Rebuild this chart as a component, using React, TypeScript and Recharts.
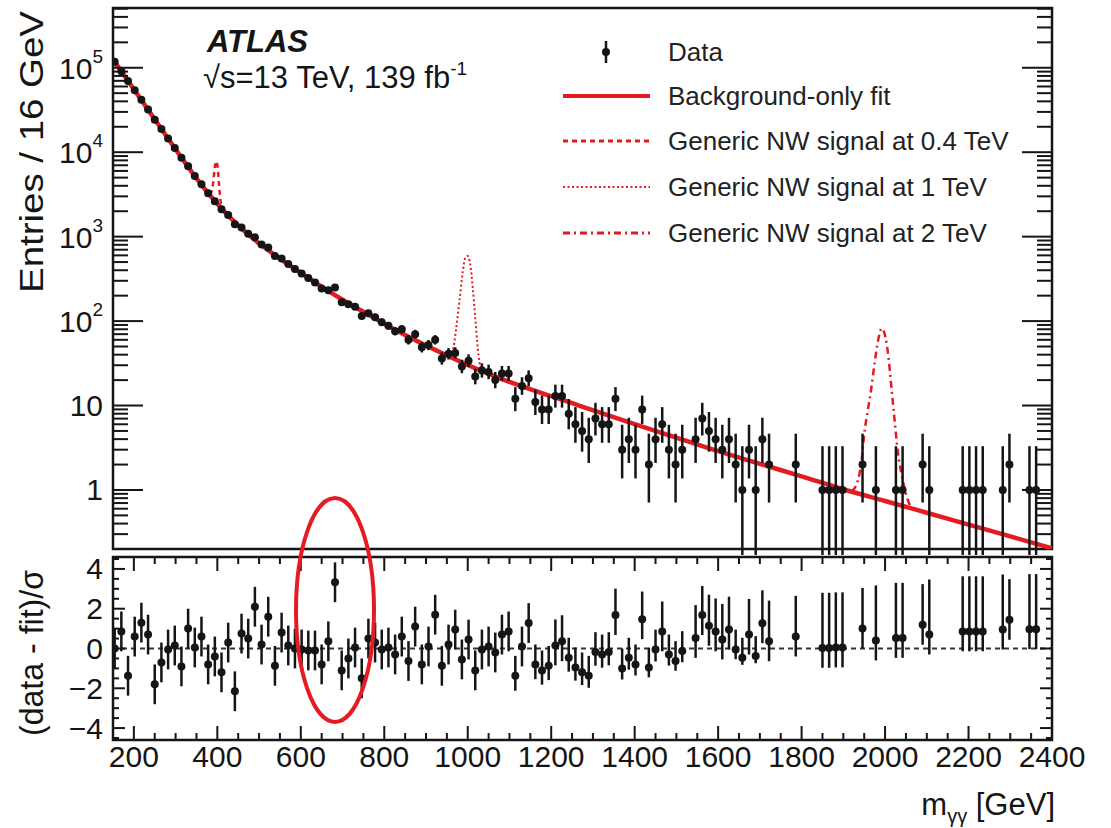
import React from 'react';
import {
  ComposedChart,
  Line,
  Scatter,
  XAxis,
  YAxis,
  ErrorBar,
  ReferenceLine,
  ReferenceArea,
} from 'recharts';

// diphoton mass bin centres (GeV), only bins with events
const binMass = [
  154, 170, 186, 202, 218, 234, 250, 266, 282, 298, 314, 330, 346, 362, 378, 394, 410, 426, 442, 458,
  474, 490, 506, 522, 538, 554, 570, 586, 602, 618, 634, 650, 666, 682, 698, 714, 730, 746, 762, 778,
  794, 810, 826, 842, 858, 874, 890, 906, 922, 938, 954, 970, 986, 1002, 1018, 1034, 1050, 1066, 1082, 1098,
  1114, 1130, 1146, 1162, 1178, 1194, 1210, 1226, 1242, 1258, 1274, 1290, 1306, 1322, 1338, 1354, 1370, 1386, 1402, 1418,
  1434, 1450, 1466, 1482, 1498, 1514, 1546, 1562, 1578, 1594, 1610, 1626, 1642, 1658, 1674, 1690, 1706, 1722, 1786, 1850,
  1866, 1882, 1898, 1946, 1978, 2026, 2042, 2090, 2106, 2186, 2202, 2218, 2234, 2282, 2298, 2346, 2362,
];

// entries / 16 GeV
const entries = [
  117800, 91040, 69460, 53970, 41670, 32050, 24270, 18820, 14550, 11240, 8590, 6805, 5216, 4180, 3258, 2620, 2117, 1808, 1400, 1283,
  1080, 982, 808, 742, 589, 551, 473, 415, 365, 323, 286, 243, 232, 250, 167, 158, 148, 115, 124, 111,
  97, 88, 76, 80, 60, 70, 49, 52, 60, 36, 41, 42, 29, 34, 22, 26, 25, 20, 24, 24,
  12, 17, 21, 11, 9, 9, 13, 13, 8, 6, 5, 4, 7, 6, 6, 12, 3, 4, 3, 9,
  2, 4, 6, 3, 2, 3, 4, 7, 5, 4, 3, 4, 2, 1, 3, 1, 4, 2, 2, 1,
  1, 1, 1, 2, 1, 1, 1, 2, 1, 1, 1, 1, 1, 1, 2, 1, 1,
];

// (data - fit)/sigma
const pulls = [
  0, 0.86, -1.37, 0.6, 1.3, 0.7, -1.8, -0.7, -0.05, 0.15, -0.9, 1.0, 0.05, 0.6, -0.8, -0.4, -1.2, 0.3, -2.15, 0.75,
  0.5, 2.1, 0.2, 1.6, -0.87, 0.8, 0.15, 0.0, -0.05, -0.1, -0.1, -0.8, 0.36, 3.33, -1.1, -0.5, 0.05, -1.5, 0.5, 0.3,
  -0.05, 0.05, -0.3, 0.6, -0.63, 1.1, -0.8, 0.1, 1.7, -0.87, 0.2, 0.95, -0.55, 0.45, -1.1, -0.05, 0.1, -0.2, 0.7, 0.86,
  -1.37, 0.1, 1.28, -0.8, -1.1, -0.87, 0.15, 0.36, -0.46, -0.95, -1.2, -1.37, -0.18, -0.3, -0.18, 1.68, -1.0, -0.46, -0.8, 1.47,
  -0.96, -0.05, 0.86, -0.3, -0.63, -0.13, 0.53, 1.68, 1.14, 0.86, 0.45, 0.95, -0.05, -0.46, 0.7, -0.38, 1.27, 0.36, 0.6, 0.03,
  0.03, 0.05, 0.05, 1.0, 0.4, 0.53, 0.53, 1.19, 0.7, 0.86, 0.86, 0.86, 0.86, 0.95, 1.44, 0.97, 0.97,
];

// background-only fit
const fitMass = [
  150, 164, 200, 250, 305, 350, 396, 440, 480, 550, 600, 674, 750, 834, 900, 1000,
  1073, 1100, 1200, 1272, 1400, 1500, 1600, 1700, 1800, 1900, 2000, 2100, 2200, 2300, 2400,
];
const fitEntries = [
  125900, 100000, 55590, 24550, 10000, 4898, 2570, 1514, 1000, 550, 372, 214, 129, 75.2, 51.3, 30.2,
  21.4, 19.1, 12.9, 9.8, 6.03, 4.17, 2.88, 2.04, 1.45, 1.02, 0.741, 0.537, 0.389, 0.282, 0.204,
];

// signal + background, near each peak
const sig04Mass = [380, 386, 390, 393, 397, 401, 404, 408, 414];
const sig04Entries = [3210, 3420, 4300, 6000, 7800, 6500, 4200, 2600, 2050];
const sig1Mass = [950, 964, 972, 980, 988, 994, 1000, 1006, 1012, 1018, 1024, 1032, 1040];
const sig1Entries = [39.4, 45, 80, 170, 380, 560, 590, 470, 250, 110, 48, 27, 25];
const sig2Mass = [1920, 1935, 1943, 1951, 1959, 1967, 1975, 1983, 1992, 2001, 2008, 2014, 2022, 2030, 2040, 2050, 2062];
const sig2Entries = [0.96, 1.3, 2.1, 5, 9, 16, 32, 58, 82, 64, 38, 19, 7.4, 3, 1.5, 0.9, 0.62];

// 68% Poisson intervals for small counts
const poissonLow = [0, 0.83, 1.29, 1.63, 1.91, 2.16, 2.38, 2.58, 2.77, 2.95, 3.11, 3.27, 3.42, 3.56];
const poissonHigh = [0, 2.3, 2.64, 2.92, 3.16, 3.38, 3.58, 3.77, 3.94, 4.11, 4.26, 4.4, 4.54, 4.67];

const massLabels = [200, 400, 600, 800, 1000, 1200, 1400, 1600, 1800, 2000, 2200, 2400];
const entryDecades = [1, 10, 100, 1000, 10000, 100000];
const pullLabels = [-4, -2, 0, 2, 4];

const RED = '#e41c22';
const INK = '#151515';
const FONT = '"Liberation Sans", Arial, Helvetica, sans-serif';

const W = 1111;
const PLOT_RIGHT = 1052;
const LEFT_W = 113;
// top panel plot area (local = page coords)
const TOP_Y0 = 8;
const TOP_H = 560;
// bottom panel: svg placed at page y 548
const BOT_TOP = 548;
const BOT_Y0 = 9;
const BOT_H = 280;

const massTicks: number[] = [];
for (let m = 150; m <= 2400; m += 50) massTicks.push(m);
const logTicks: number[] = [];
[0.1, 1, 10, 100, 1000, 10000, 100000].forEach((d) => {
  for (let k = 1; k <= 9; k++) {
    const v = +(d * k).toPrecision(3);
    if (v > 0.2 && v < 5.1e5) logTicks.push(v);
  }
});
const pullTicks: number[] = [];
for (let p = -4.5; p <= 4.5; p += 0.5) pullTicks.push(p);

const dataPoints = binMass.map((m, i) => {
  const n = entries[i];
  const err = n <= 13 ? [poissonLow[n], poissonHigh[n]] : [Math.sqrt(n) - 0.5, Math.sqrt(n) + 0.5];
  return { x: m, y: n, err };
});
const pullPoints = binMass.map((m, i) => {
  const n = entries[i];
  const r = n <= 13 ? poissonHigh[n] / poissonLow[n] : 1;
  const p = pulls[i];
  return { x: m, y: p, err: p >= 0 ? [1, r] : [1 / r, 1] };
});
const toXY = (xs: number[], ys: number[]) => xs.map((x, i) => ({ x, y: ys[i] }));
const fitLine = toXY(fitMass, fitEntries);
const sig04 = toXY(sig04Mass, sig04Entries);
const sig1 = toXY(sig1Mass, sig1Entries);
const sig2 = toXY(sig2Mass, sig2Entries);

const makeXTick = (plotTop: number, withLabels: boolean) => (props: any) => {
  const { x, y, payload } = props;
  const v = payload.value as number;
  const major = massLabels.includes(v);
  const len = major ? 14 : 7;
  return (
    <g>
      <line x1={x} y1={y} x2={x} y2={y - len} stroke={INK} strokeWidth={2} />
      <line x1={x} y1={plotTop} x2={x} y2={plotTop + len} stroke={INK} strokeWidth={2} />
      {withLabels && major && (
        <text x={x} y={y + 27} textAnchor="middle" fontSize={30} fill={INK} fontFamily={FONT}>
          {v}
        </text>
      )}
    </g>
  );
};

const LogTick = (props: any) => {
  const { x, y, payload } = props;
  const v = payload.value as number;
  const major = entryDecades.some((d) => Math.abs(d - v) < 1e-9 * d);
  const len = major ? 30 : 15;
  const exp = Math.round(Math.log10(v));
  return (
    <g>
      <line x1={x} y1={y} x2={x + len} y2={y} stroke={INK} strokeWidth={2} />
      <line x1={PLOT_RIGHT} y1={y} x2={PLOT_RIGHT - len} y2={y} stroke={INK} strokeWidth={2} />
      {major && (
        <text x={x - 10} y={y} textAnchor="end" dominantBaseline="central" fontSize={30} fill={INK} fontFamily={FONT}>
          {exp <= 1 ? (
            String(v)
          ) : (
            <>
              <tspan>10</tspan>
              <tspan dy={-12} fontSize={19}>
                {exp}
              </tspan>
            </>
          )}
        </text>
      )}
    </g>
  );
};

const PullTick = (props: any) => {
  const { x, y, payload } = props;
  const v = payload.value as number;
  const major = pullLabels.includes(v);
  const len = major ? 12 : 6;
  return (
    <g>
      <line x1={x} y1={y} x2={x + len} y2={y} stroke={INK} strokeWidth={2} />
      <line x1={PLOT_RIGHT} y1={y} x2={PLOT_RIGHT - len} y2={y} stroke={INK} strokeWidth={2} />
      {major && (
        <text x={x - 10} y={y} textAnchor="end" dominantBaseline="central" fontSize={30} fill={INK} fontFamily={FONT}>
          {v < 0 ? `\u2212${-v}` : v}
        </text>
      )}
    </g>
  );
};

const Dot = (props: any) => <circle cx={props.cx} cy={props.cy} r={4} fill={INK} />;

const Overlay = () => (
  <svg
    width={W}
    height={828}
    style={{ position: 'absolute', left: 0, top: 0, pointerEvents: 'none' }}
    fontFamily={FONT}
  >
    <text x={207} y={52} fontSize={31} fontWeight="bold" fontStyle="italic" fill={INK}>
      ATLAS
    </text>
    <text x={203} y={88} fontSize={31} fill={INK}>
      √s=13 TeV, 139 fb
      <tspan dy={-13} fontSize={19}>
        -1
      </tspan>
    </text>

    {/* legend */}
    <line x1={606} y1={41} x2={606} y2={63} stroke={INK} strokeWidth={2.5} />
    <circle cx={606} cy={52} r={4} fill={INK} />
    <line x1={563} y1={96} x2={650} y2={96} stroke={RED} strokeWidth={4} />
    <line x1={563} y1={141} x2={650} y2={141} stroke={RED} strokeWidth={3} strokeDasharray="5 4" />
    <line x1={563} y1={187} x2={650} y2={187} stroke={RED} strokeWidth={2} strokeDasharray="2 2.5" />
    <line x1={563} y1={233} x2={650} y2={233} stroke={RED} strokeWidth={3} strokeDasharray="7 4 2 4" />
    {[
      ['Data', 52],
      ['Background-only fit', 96],
      ['Generic NW signal at 0.4 TeV', 141],
      ['Generic NW signal at 1 TeV', 187],
      ['Generic NW signal at 2 TeV', 233],
    ].map(([label, y]) => (
      <text key={label} x={668} y={y as number} dominantBaseline="central" fontSize={26} fill="#222">
        {label}
      </text>
    ))}

    {/* axis titles */}
    <text
      transform="translate(31,152) rotate(-90)"
      textAnchor="middle"
      dominantBaseline="central"
      fontSize={34}
      fill={INK}
      textLength={282}
      lengthAdjust="spacingAndGlyphs"
    >
      Entries / 16 GeV
    </text>
    <text
      transform="translate(31,653) rotate(-90)"
      textAnchor="middle"
      dominantBaseline="central"
      fontSize={33}
      fill={INK}
      textLength={166}
      lengthAdjust="spacingAndGlyphs"
    >
      (data - fit)/σ
    </text>
    <text x={1055} y={815} textAnchor="end" fontSize={31} fill={INK}>
      m
      <tspan dy={8} fontSize={20}>
        γγ
      </tspan>
      <tspan dy={-8}> [GeV]</tspan>
    </text>

    {/* highlighted excess */}
    <ellipse cx={335} cy={610} rx={39} ry={112} fill="none" stroke={RED} strokeWidth={4} />
  </svg>
);

const App: React.FC = () => {
  return (
    <div style={{ position: 'absolute', left: 0, top: 0, width: W, height: 828, background: '#fff' }}>
      <div style={{ position: 'absolute', left: 0, top: 0 }}>
        <ComposedChart width={W} height={TOP_H} margin={{ top: TOP_Y0, right: W - PLOT_RIGHT, bottom: 11, left: 0 }}>
          <XAxis
            xAxisId={0}
            type="number"
            dataKey="x"
            domain={[150, 2400]}
            allowDataOverflow
            ticks={massTicks}
            interval={0}
            height={0}
            tickSize={0}
            tickMargin={0}
            axisLine={false}
            tickLine={false}
            tick={makeXTick(TOP_Y0, false)}
          />
          <YAxis
            yAxisId={0}
            type="number"
            dataKey="y"
            scale="log"
            domain={[0.2, 5.1e5]}
            allowDataOverflow
            ticks={logTicks}
            interval={0}
            width={LEFT_W}
            tickSize={0}
            tickMargin={0}
            axisLine={false}
            tickLine={false}
            tick={LogTick}
          />
          <Line data={sig04} dataKey="y" type="monotone" stroke={RED} strokeWidth={2.5} strokeDasharray="5 4" dot={false} activeDot={false} isAnimationActive={false} />
          <Line data={sig1} dataKey="y" type="monotone" stroke={RED} strokeWidth={2} strokeDasharray="2 2.5" dot={false} activeDot={false} isAnimationActive={false} />
          <Line data={sig2} dataKey="y" type="monotone" stroke={RED} strokeWidth={2.5} strokeDasharray="7 4 2 4" dot={false} activeDot={false} isAnimationActive={false} />
          <Line data={fitLine} dataKey="y" type="monotone" stroke={RED} strokeWidth={4.5} dot={false} activeDot={false} isAnimationActive={false} />
          <Scatter data={dataPoints} dataKey="y" shape={Dot} isAnimationActive={false}>
            <ErrorBar dataKey="err" direction="y" width={0} stroke={INK} strokeWidth={2.5} />
          </Scatter>
          <ReferenceArea x1={150} x2={2400} y1={0.2} y2={5.1e5} fill="none" stroke={INK} strokeWidth={2.5} ifOverflow="visible" />
        </ComposedChart>
      </div>
      <div style={{ position: 'absolute', left: 0, top: BOT_TOP }}>
        <ComposedChart width={W} height={BOT_H} margin={{ top: BOT_Y0, right: W - PLOT_RIGHT, bottom: 0, left: 0 }}>
          <XAxis
            xAxisId={0}
            type="number"
            dataKey="x"
            domain={[150, 2400]}
            allowDataOverflow
            ticks={massTicks}
            interval={0}
            height={88}
            tickSize={0}
            tickMargin={0}
            axisLine={false}
            tickLine={false}
            tick={makeXTick(BOT_Y0, true)}
          />
          <YAxis
            yAxisId={0}
            type="number"
            dataKey="y"
            domain={[-4.6, 4.6]}
            allowDataOverflow
            ticks={pullTicks}
            interval={0}
            width={LEFT_W}
            tickSize={0}
            tickMargin={0}
            axisLine={false}
            tickLine={false}
            tick={PullTick}
          />
          <ReferenceLine y={0} stroke="#333" strokeWidth={2} strokeDasharray="5 4" />
          <Scatter data={pullPoints} dataKey="y" shape={Dot} isAnimationActive={false}>
            <ErrorBar dataKey="err" direction="y" width={0} stroke={INK} strokeWidth={2.5} />
          </Scatter>
          <ReferenceArea x1={150} x2={2400} y1={-4.6} y2={4.6} fill="none" stroke={INK} strokeWidth={2.5} ifOverflow="visible" />
        </ComposedChart>
      </div>
      <Overlay />
    </div>
  );
};

export default App;
